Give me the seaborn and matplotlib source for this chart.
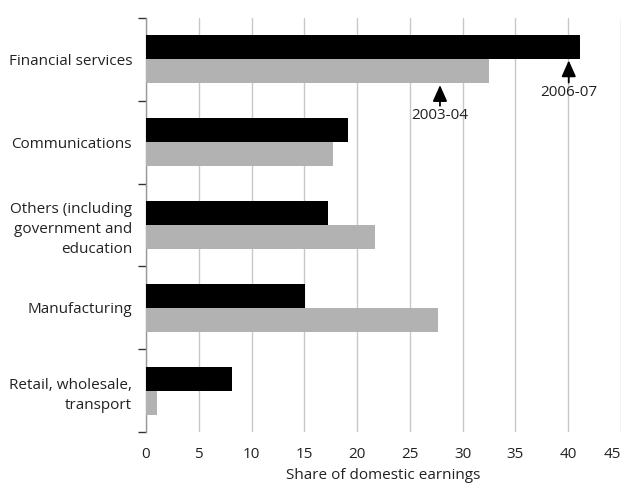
import matplotlib
matplotlib.use("Agg")
import matplotlib.pyplot as plt
import seaborn as sns
import pandas as pd
import numpy as np

categories = ["Financial services", "Communications",
              "Others (including\ngovernment and\neducation",
              "Manufacturing", "Retail, wholesale,\ntransport"]
series_names = ["2006-07", "2003-04"]
values_0607 = [41.1, 19.1, 17.2, 15.1, 8.1]
values_0304 = [32.5, 17.7, 21.7, 27.7, 1.0]
x_ticks = [0, 5, 10, 15, 20, 25, 30, 35, 40, 45]

df = pd.DataFrame({
    "sector": categories * 2,
    "period": [series_names[0]] * 5 + [series_names[1]] * 5,
    "value": values_0607 + values_0304,
})

sns.set_style("white")
plt.rcParams["font.family"] = ["Open Sans", "DejaVu Sans"]

FS = 11
fig = plt.figure(figsize=(6.27, 4.83), dpi=100)
ax = fig.add_axes([146/627, 1-432/483, (621-146)/627, (432-18)/483])

sns.barplot(data=df, y="sector", x="value", hue="period", order=categories,
            hue_order=series_names, palette=["#000000", "#b2b2b2"],
            width=0.58, orient="h", ax=ax, saturation=1, legend=False,
            edgecolor="none", linewidth=0, zorder=3)

ax.set_xlim(0, 45)
ax.set_ylim(4.5, -0.5)
ax.set_xticks(x_ticks)
ax.set_xticklabels([str(t) for t in x_ticks], fontsize=FS, color="#222222")
ax.get_xticklabels()[-1].set_horizontalalignment("right")
ax.xaxis.grid(True, color="#c8c8c8", linewidth=1, zorder=0)
ax.set_axisbelow(True)
ax.tick_params(axis="x", length=0, pad=11)
ax.set_xlabel("Share of domestic earnings", fontsize=FS, color="#222222", labelpad=4)
ax.set_ylabel("")

ax.set_yticks(range(len(categories)))
ax.set_yticklabels(categories, fontsize=FS, color="#222222", linespacing=1.45)
ax.tick_params(axis="y", which="major", left=False, length=0, pad=10)
ax.set_yticks(np.arange(-0.5, 5.0, 1.0), minor=True)
ax.tick_params(axis="y", which="minor", left=True, length=6, width=1, color="#333333")

for s in ["top", "right", "bottom"]:
    ax.spines[s].set_visible(False)
ax.spines["left"].set_color("#999999")
ax.spines["left"].set_linewidth(1)

arrowprops = dict(arrowstyle="-|>,head_width=0.4,head_length=0.9", color="black", lw=1.3,
                  shrinkA=0, shrinkB=0, mutation_scale=11)
# 2003-04 marker
ax.annotate("", xy=(27.85, 0.31), xytext=(27.85, 0.56), arrowprops=arrowprops)
ax.text(27.85, 0.675, "2003-04", ha="center", va="center", fontsize=FS, color="#222222")
# 2006-07 marker
ax.annotate("", xy=(40.05, 0.012), xytext=(40.05, 0.28), arrowprops=arrowprops)
ax.text(40.05, 0.394, "2006-07", ha="center", va="center", fontsize=FS, color="#222222")

fig.savefig("out.png", dpi=100)
